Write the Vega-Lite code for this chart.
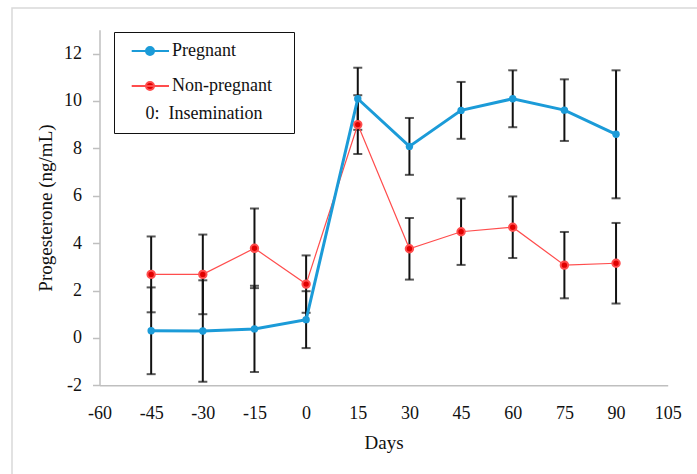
{
  "$schema": "https://vega.github.io/schema/vega-lite/v6.json",
  "width": 695,
  "height": 476,
  "autosize": {"type": "none"},
  "padding": {"left": 12, "top": 8, "right": -10, "bottom": -10},
  "background": "white",
  "config": {
    "view": {"stroke": "#d9d9d9", "strokeWidth": 1.5},
    "font": "Liberation Serif",
    "axis": {
      "grid": false,
      "domainColor": "#bfbfbf",
      "domainWidth": 1.5,
      "tickColor": "#bfbfbf",
      "tickWidth": 1.5,
      "labelFont": "Liberation Serif",
      "labelFontSize": 18,
      "labelColor": "#111111",
      "titleFont": "Liberation Serif",
      "titleFontSize": 19,
      "titleFontWeight": "normal",
      "titleColor": "#111111",
      "labelExpr": "datum.value < 0 ? '-' + abs(datum.value) : '' + datum.value"
    }
  },
  "data": {
    "values": [
      {"day": -45, "group": "Pregnant", "mean": 0.3, "se": 1.83},
      {"day": -30, "group": "Pregnant", "mean": 0.29, "se": 2.14},
      {"day": -15, "group": "Pregnant", "mean": 0.38, "se": 1.82},
      {"day": 0, "group": "Pregnant", "mean": 0.77, "se": 1.2},
      {"day": 15, "group": "Pregnant", "mean": 10.09, "se": 1.31},
      {"day": 30, "group": "Pregnant", "mean": 8.08, "se": 1.2},
      {"day": 45, "group": "Pregnant", "mean": 9.6, "se": 1.2},
      {"day": 60, "group": "Pregnant", "mean": 10.09, "se": 1.2},
      {"day": 75, "group": "Pregnant", "mean": 9.61, "se": 1.3},
      {"day": 90, "group": "Pregnant", "mean": 8.59, "se": 2.7},
      {"day": -45, "group": "Non-pregnant", "mean": 2.68, "se": 1.6},
      {"day": -30, "group": "Non-pregnant", "mean": 2.68, "se": 1.68},
      {"day": -15, "group": "Non-pregnant", "mean": 3.78, "se": 1.68},
      {"day": 0, "group": "Non-pregnant", "mean": 2.27, "se": 1.21},
      {"day": 15, "group": "Non-pregnant", "mean": 9.0, "se": 1.24},
      {"day": 30, "group": "Non-pregnant", "mean": 3.76, "se": 1.3},
      {"day": 45, "group": "Non-pregnant", "mean": 4.48, "se": 1.4},
      {"day": 60, "group": "Non-pregnant", "mean": 4.67, "se": 1.3},
      {"day": 75, "group": "Non-pregnant", "mean": 3.07, "se": 1.4},
      {"day": 90, "group": "Non-pregnant", "mean": 3.15, "se": 1.7}
    ]
  },
  "encoding": {
    "x": {
      "field": "day",
      "type": "quantitative",
      "scale": {"domain": [-60, 105], "range": [87.5, 655.7], "nice": false, "zero": false},
      "axis": {
        "values": [-60, -45, -30, -15, 0, 15, 30, 45, 60, 75, 90, 105],
        "ticks": false,
        "tickSize": 0,
        "labelPadding": 19,
        "labelFlush": false,
        "labelOverlap": false,
        "offset": -98.7,
        "title": "Days",
        "titlePadding": 11
      }
    },
    "y": {
      "field": "mean",
      "type": "quantitative",
      "scale": {"domain": [-2, 13], "range": [377.3, 21.8], "nice": false, "zero": false},
      "axis": {
        "values": [-2, 0, 2, 4, 6, 8, 10, 12],
        "tickSize": 7,
        "labelPadding": 11,
        "labelFlush": false,
        "labelOverlap": false,
        "offset": -87.5,
        "title": "Progesterone (ng/mL)",
        "titlePadding": 8
      }
    }
  },
  "layer": [
    {
      "mark": {"type": "errorbar", "ticks": true, "size": 9, "thickness": 2, "color": "#111111"},
      "encoding": {"yError": {"field": "se"}}
    },
    {
      "transform": [{"filter": "datum.group === 'Non-pregnant'"}],
      "mark": {"type": "line", "color": "#ff4d4d", "strokeWidth": 1.2}
    },
    {
      "transform": [{"filter": "datum.group === 'Pregnant'"}],
      "mark": {"type": "line", "color": "#1b9bd8", "strokeWidth": 3}
    },
    {
      "transform": [{"filter": "datum.group === 'Pregnant'"}],
      "mark": {"type": "point", "filled": true, "opacity": 1, "size": 55, "color": "#1b9bd8"}
    },
    {
      "transform": [{"filter": "datum.group === 'Non-pregnant'"}],
      "mark": {"type": "point", "filled": true, "opacity": 1, "size": 55, "strokeWidth": 2},
      "encoding": {
        "fill": {
          "field": "group",
          "type": "nominal",
          "scale": {"domain": ["Pregnant", "Non-pregnant"], "range": ["#1b9bd8", "#e00000"]},
          "legend": {
            "title": "0:\u00a0 Insemination",
            "orient": "none",
            "legendX": 102,
            "legendY": 24,
            "titleOrient": "bottom",
            "titleAnchor": "middle",
            "titleFont": "Liberation Serif",
            "titleFontSize": 18,
            "titleFontWeight": "normal",
            "titleColor": "#111111",
            "titlePadding": 10,
            "labelFont": "Liberation Serif",
            "labelFontSize": 18,
            "labelColor": "#111111",
            "labelOffset": 30,
            "symbolType": "M-0.26,0L7.2,0M2.6,0A0.8,0.8,0,1,1,4.2,0A0.8,0.8,0,1,1,2.6,0ZM29.4,0",
            "symbolSize": 100,
            "symbolStrokeWidth": 2,
            "symbolOpacity": 1,
            "rowPadding": 17,
            "padding": 10,
            "strokeColor": "#111111",
            "fillColor": "white",
            "cornerRadius": 0
          }
        },
        "stroke": {
          "field": "group",
          "type": "nominal",
          "scale": {"domain": ["Pregnant", "Non-pregnant"], "range": ["#1b9bd8", "#ff4d4d"]},
          "legend": {
            "title": "0:\u00a0 Insemination",
            "orient": "none",
            "legendX": 102,
            "legendY": 24
          }
        }
      }
    }
  ]
}
